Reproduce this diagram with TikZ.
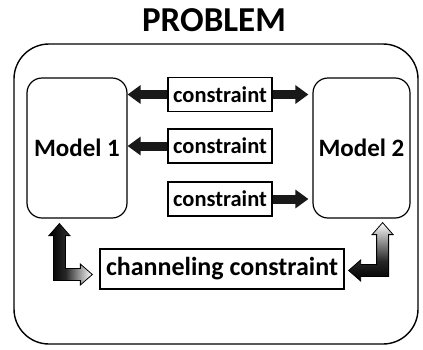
\documentclass[tikz,border=0pt]{standalone}
\usepackage{fontspec}
\setmainfont{Carlito}
\usetikzlibrary{arrows.meta,calc}

% fills for the two bent arrows
\pgfdeclarehorizontalshading{faderight}{100bp}{color(0bp)=(black); color(25bp)=(black); color(44bp)=(black!85); color(62bp)=(black!35); color(75bp)=(white); color(100bp)=(white)}
\pgfdeclareverticalshading{fadeup}{100bp}{color(0bp)=(black); color(25bp)=(black); color(42bp)=(black!85); color(60bp)=(black!40); color(75bp)=(white); color(100bp)=(white)}

\begin{document}
\begin{tikzpicture}[x=1pt,y=-1pt,
  model/.style={draw,line width=1.2pt,rounded corners=15pt,minimum width=100pt,minimum height=140pt,
    font=\fontsize{25}{25}\selectfont\bfseries},
  cbox/.style={draw,line width=1.1pt,minimum width=104pt,minimum height=34pt,inner sep=2pt,
    font=\fontsize{22.5}{22.5}\selectfont\bfseries},
  fat/.style={line width=9pt,black!90,-{Triangle[length=13pt,width=18pt]}},
  elbow/.style={draw=black,line width=0.8pt}]
\useasboundingbox (0,0) rectangle (423,349);

\node (title) at (214,20) {\fontsize{35}{35}\selectfont\bfseries PROBLEM};
\draw[line width=1.4pt,rounded corners=35pt] (14,44) rectangle (418,344);

\node[model] (m1) at (77,148)    {Model 1};
\node[model,minimum width=97pt] (m2) at (361.5,148) {Model 2};

\node[cbox] (c1) at (220,94.5) {constraint};
\node[cbox] (c2) at (220,146)  {constraint};
\node[cbox] (c3) at (220,199)  {constraint};
\node[cbox,line width=1.3pt,minimum width=244pt,minimum height=40pt,
  font=\fontsize{26}{26}\selectfont\bfseries] (ch) at (222,269) {channeling constraint};

\path
(c1) edge[fat]                  (c1.west -| m1.east)
(c1) edge[fat,shorten >=4pt]    (c1.east -| m2.west)
(c2) edge[fat]                  (c2.west -| m1.east)
(c3) edge[fat,shorten >=4pt]    (c3.east -| m2.west)
;

% bent arrows between the models and the channeling box
\coordinate (la) at ($(m1.south west)+(33,5)$);
\coordinate (lb) at ($(ch.west)+(-7,5.5)$);
\coordinate (ra) at ($(m2.south east)+(-28,4)$);
\coordinate (rb) at ($(ch.east)+(4,1.5)$);

\path[elbow,shading=faderight] (la) -- ++(10.5,12) -- ++(-4.5,0) -- ($(la |- lb)+(6,-6)$)
  -- ($(lb)+(-12,-6)$) -- ++(0,-4.5) -- (lb) -- ++(-12,10.5) -- ++(0,-4.5)
  -- ($(la |- lb)+(-6,6)$) -- ($(la)+(-6,12)$) -- ++(-4.5,0) -- cycle;
\path[elbow,shading=fadeup] (ra) -- ++(10.5,12) -- ++(-4.5,0) -- ($(ra |- rb)+(6,6)$)
  -- ($(rb)+(12,6)$) -- ++(0,4.5) -- (rb) -- ++(12,-10.5) -- ++(0,4.5)
  -- ($(ra |- rb)+(-6,-6)$) -- ($(ra)+(-6,12)$) -- ++(-4.5,0) -- cycle;
\end{tikzpicture}
\end{document}
